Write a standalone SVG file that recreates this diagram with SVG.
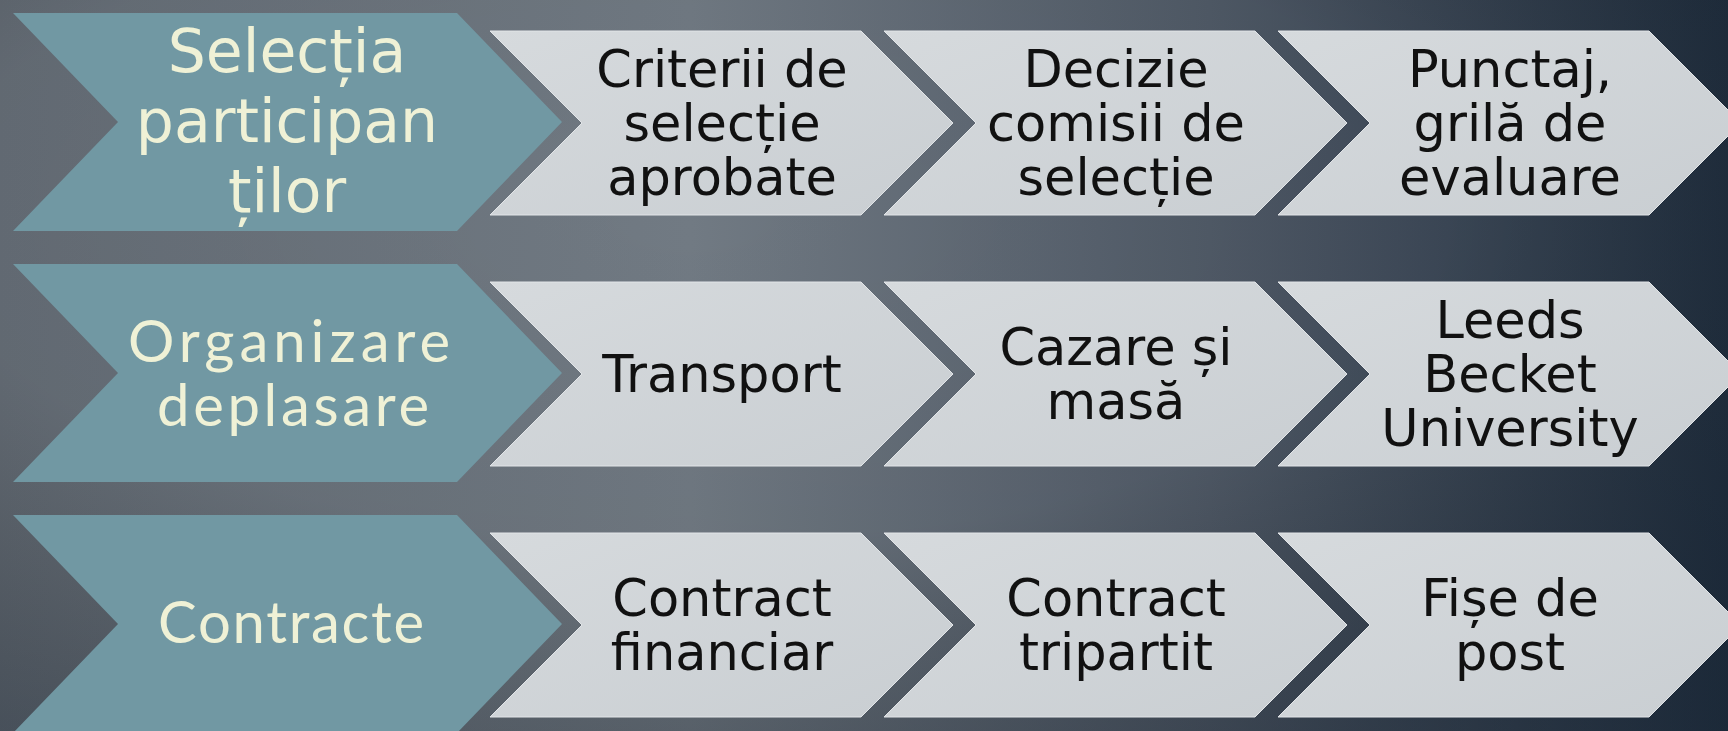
<svg xmlns="http://www.w3.org/2000/svg" width="1728" height="731" viewBox="0 0 1728 731">
<defs>
<linearGradient id="bgl" x1="0" y1="0" x2="1" y2="0">
<stop offset="0" stop-color="#656d76"/>
<stop offset="0.4" stop-color="#717a83"/>
<stop offset="0.7" stop-color="#505a67"/>
<stop offset="1" stop-color="#243344"/>
</linearGradient>
<radialGradient id="bgr" cx="0.4" cy="0.3" r="0.8">
<stop offset="0" stop-color="#000" stop-opacity="0"/>
<stop offset="0.55" stop-color="#000" stop-opacity="0.04"/>
<stop offset="1" stop-color="#0a1420" stop-opacity="0.32"/>
</radialGradient>
<linearGradient id="lg" x1="0" y1="0" x2="1" y2="1">
<stop offset="0" stop-color="#d6dadd"/>
<stop offset="1" stop-color="#c9ced2"/>
</linearGradient>
<polygon id="big" points="0,-109 444,-109 549,0 444,109 0,109 105,0"/>
<polygon id="small" points="0,-92 371,-92 463,0 371,92 0,92 92,0"/>
</defs>
<style>
.blue{fill:#7198a3}
.light{fill:url(#lg);stroke:#e2e5e8;stroke-width:1}
.bt{font-family:"DejaVu Sans",sans-serif;font-size:60px;fill:#eff1d6;text-anchor:middle}
.gt{font-family:Lato,"DejaVu Sans",sans-serif;font-size:58px;fill:#eff1d6;text-anchor:middle}
.dt{font-family:"DejaVu Sans",sans-serif;font-size:51px;fill:#111;text-anchor:middle}
</style>
<rect width="1728" height="731" fill="url(#bgl)"/>
<rect width="1728" height="731" fill="url(#bgr)"/>

<g id="n-selectia">
<use href="#big" x="13" y="122" class="blue"/>
<text class="bt" x="287" y="72">Selecția</text>
<text class="bt" x="287" y="142">participan</text>
<text class="bt" x="287" y="212">ților</text>
</g>
<g id="n-criterii">
<use href="#small" x="490" y="123" class="light"/>
<text class="dt" x="722" y="87">Criterii de</text>
<text class="dt" x="722" y="141">selecție</text>
<text class="dt" x="722" y="195">aprobate</text>
</g>
<g id="n-decizie">
<use href="#small" x="884" y="123" class="light"/>
<text class="dt" x="1116" y="87">Decizie</text>
<text class="dt" x="1116" y="141">comisii de</text>
<text class="dt" x="1116" y="195">selecție</text>
</g>
<g id="n-punctaj">
<use href="#small" x="1278" y="123" class="light"/>
<text class="dt" x="1510" y="87">Punctaj,</text>
<text class="dt" x="1510" y="141">grilă de</text>
<text class="dt" x="1510" y="195">evaluare</text>
</g>

<g id="n-organizare">
<use href="#big" x="13" y="373" class="blue"/>
<text class="gt" x="289" y="362" textLength="322" lengthAdjust="spacing">Organizare</text>
<text class="gt" x="293" y="426" textLength="272" lengthAdjust="spacing">deplasare</text>
</g>
<g id="n-transport">
<use href="#small" x="490" y="374" class="light"/>
<text class="dt" x="722" y="392">Transport</text>
</g>
<g id="n-cazare">
<use href="#small" x="884" y="374" class="light"/>
<text class="dt" x="1116" y="365">Cazare și</text>
<text class="dt" x="1116" y="419">masă</text>
</g>
<g id="n-leeds">
<use href="#small" x="1278" y="374" class="light"/>
<text class="dt" x="1510" y="338">Leeds</text>
<text class="dt" x="1510" y="392">Becket</text>
<text class="dt" x="1510" y="446">University</text>
</g>

<g id="n-contracte">
<use href="#big" x="13" y="624" class="blue"/>
<text class="gt" x="291" y="643" textLength="266" lengthAdjust="spacing">Contracte</text>
</g>
<g id="n-contract-financiar">
<use href="#small" x="490" y="625" class="light"/>
<text class="dt" x="722" y="616">Contract</text>
<text class="dt" x="722" y="670">financiar</text>
</g>
<g id="n-contract-tripartit">
<use href="#small" x="884" y="625" class="light"/>
<text class="dt" x="1116" y="616">Contract</text>
<text class="dt" x="1116" y="670">tripartit</text>
</g>
<g id="n-fise">
<use href="#small" x="1278" y="625" class="light"/>
<text class="dt" x="1510" y="616">Fișe de</text>
<text class="dt" x="1510" y="670">post</text>
</g>
</svg>
